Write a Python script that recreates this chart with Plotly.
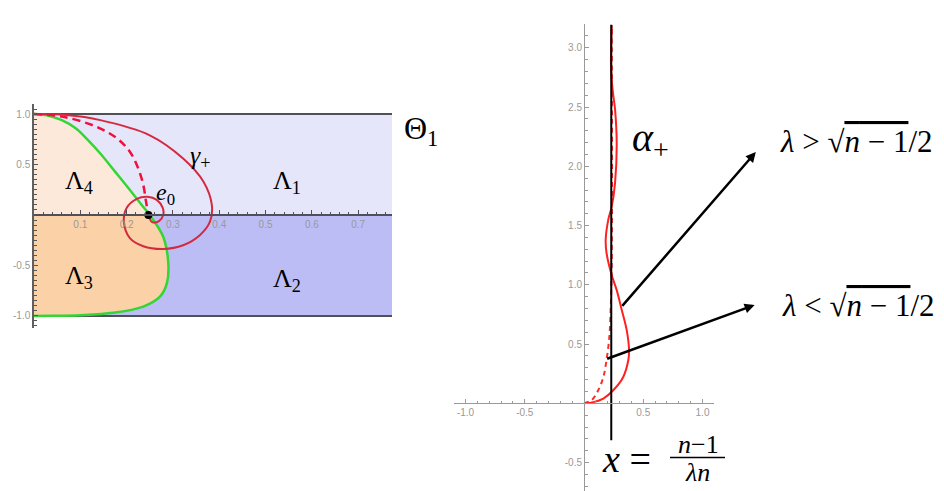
import plotly.graph_objects as go

W, H = 944, 491

# ---------------- left panel data ----------------
theta_bounds = [-1.0, 1.0]
x_max_left = 0.773

green_x = [0, 0.03, 0.06, 0.09, 0.115, 0.145, 0.175, 0.205, 0.236, 0.25, 0.279, 0.29, 0.287, 0.272, 0.236, 0.171, 0.1, 0.04, 0]
green_y = [1, 0.985, 0.94, 0.86, 0.75, 0.6, 0.43, 0.26, 0.08, 0.0, -0.215, -0.48, -0.676, -0.81, -0.908, -0.97, -0.993, -0.999, -1]

dash_x = [0, 0.063, 0.135, 0.179, 0.207, 0.225, 0.236, 0.242, 0.247]
dash_y = [1, 0.973, 0.874, 0.76, 0.627, 0.462, 0.297, 0.13, 0]

spiral_x = [0, 0.07, 0.143, 0.25, 0.322, 0.366, 0.384, 0.38, 0.358, 0.322, 0.279, 0.236, 0.207,
            0.194, 0.2, 0.222, 0.245, 0.265, 0.278, 0.279, 0.27, 0.255, 0.247]
spiral_y = [1, 0.99, 0.94, 0.79, 0.56, 0.33, 0.1, -0.066, -0.2, -0.3, -0.337, -0.31, -0.23,
            -0.066, 0.07, 0.16, 0.18, 0.15, 0.07, 0, -0.06, -0.07, 0]

e0 = (0.247, 0.0)

left_xticks = [0.1, 0.2, 0.3, 0.4, 0.5, 0.6, 0.7]
left_yticks = [-1.0, -0.5, 0.5, 1.0]

# ---------------- right panel data ----------------
alpha_x = [0, 0.08, 0.163, 0.247, 0.33, 0.374, 0.38, 0.36, 0.318, 0.276, 0.234, 0.19, 0.183,
           0.205, 0.234, 0.262, 0.276, 0.262, 0.242, 0.228, 0.234]
alpha_y = [0, 0.01, 0.04, 0.11, 0.22, 0.365, 0.45, 0.62, 0.79, 0.955, 1.08, 1.27, 1.38,
           1.55, 1.66, 1.86, 2.19, 2.48, 2.64, 2.84, 3.19]

alpha_d_x = [0, 0.065, 0.12, 0.163, 0.19, 0.214, 0.225, 0.232, 0.236, 0.236, 0.234]
alpha_d_y = [0, 0.028, 0.11, 0.22, 0.365, 0.56, 0.79, 1.04, 1.6, 2.4, 3.19]

vline_x = 0.23
vline_y = [-0.295, 3.355]

arrow_tails = [(0.312, 0.81), (0.183, 0.371)]
arrow_heads = [(1.45, 2.12), (1.44, 0.83)]

right_xticks = [-1.0, -0.5, 0.5, 1.0]
right_yticks = [-0.5, 0.5, 1.0, 1.5, 2.0, 2.5, 3.0]


def px(v):
    return v / W


def py(v):
    return 1 - v / H


def fmt(v):
    return ("%.1f" % v)


fig = go.Figure()

# region fills
fig.add_trace(go.Scatter(x=[0, x_max_left, x_max_left, 0], y=[0, 0, theta_bounds[1], theta_bounds[1]],
                         fill="toself", fillcolor="#e6e6fa", line=dict(width=0), mode="lines",
                         hoverinfo="skip", showlegend=False))
fig.add_trace(go.Scatter(x=[0, x_max_left, x_max_left, 0], y=[0, 0, theta_bounds[0], theta_bounds[0]],
                         fill="toself", fillcolor="#bdbdf6", line=dict(width=0), mode="lines",
                         hoverinfo="skip", showlegend=False))
up_x = [gx for gx, gy in zip(green_x, green_y) if gy >= 0] + [0]
up_y = [gy for gy in green_y if gy >= 0] + [0]
lo_x = [gx for gx, gy in zip(green_x, green_y) if gy <= 0] + [0]
lo_y = [gy for gy in green_y if gy <= 0] + [0]
fig.add_trace(go.Scatter(x=up_x, y=up_y, fill="toself", fillcolor="#fde9da", line=dict(width=0),
                         mode="lines", hoverinfo="skip", showlegend=False))
fig.add_trace(go.Scatter(x=lo_x, y=lo_y, fill="toself", fillcolor="#fbd1a8", line=dict(width=0),
                         mode="lines", hoverinfo="skip", showlegend=False))

# strip boundaries
for b in theta_bounds:
    fig.add_trace(go.Scatter(x=[0, x_max_left], y=[b, b], mode="lines",
                             line=dict(color="#505058", width=2), showlegend=False, hoverinfo="skip"))

fig.add_trace(go.Scatter(x=green_x, y=green_y, mode="lines", line=dict(color="#33d633", width=2.5, shape="spline"),
                         showlegend=False))
fig.add_trace(go.Scatter(x=spiral_x, y=spiral_y, mode="lines", line=dict(color="#d42a40", width=2, shape="spline"),
                         showlegend=False))
fig.add_trace(go.Scatter(x=dash_x, y=dash_y, mode="lines",
                         line=dict(color="#f0103a", width=2.5, dash="8px,5px", shape="spline"), showlegend=False))
fig.add_trace(go.Scatter(x=[e0[0]], y=[e0[1]], mode="markers", marker=dict(color="black", size=8),
                         showlegend=False))

# right panel
fig.add_trace(go.Scatter(x=[vline_x, vline_x], y=vline_y, mode="lines", line=dict(color="black", width=2),
                         xaxis="x2", yaxis="y3", showlegend=False))
fig.add_trace(go.Scatter(x=alpha_d_x, y=alpha_d_y, mode="lines",
                         line=dict(color="#ff2a2a", width=2, dash="5px,4px", shape="spline"),
                         xaxis="x2", yaxis="y2", showlegend=False))
fig.add_trace(go.Scatter(x=alpha_x, y=alpha_y, mode="lines",
                         line=dict(color="#ff2020", width=2, shape="spline"),
                         xaxis="x2", yaxis="y2", showlegend=False))

tickfont = dict(family="Liberation Sans, Arial", size=10, color="#999999")

fig.update_layout(
    width=W, height=H, margin=dict(l=0, r=0, t=0, b=0),
    paper_bgcolor="white", plot_bgcolor="rgba(0,0,0,0)", showlegend=False,
    xaxis=dict(domain=[px(34), px(392)], range=[0, x_max_left], anchor="free", position=py(215),
               showgrid=False, zeroline=False, showline=True, linecolor="#50505a", linewidth=1.5,
               ticks="inside", ticklen=4, tickcolor="#50505a", tickwidth=1,
               tickvals=left_xticks, ticktext=[fmt(v) for v in left_xticks], tickfont=tickfont,
               minor=dict(dtick=0.02, tick0=0, ticks="inside", ticklen=2.5, tickcolor="#50505a", showgrid=False)),
    yaxis=dict(domain=[py(328), py(104)], range=[-1.12, 1.1], anchor="x",
               showgrid=False, zeroline=False, showline=True, linecolor="#606060", linewidth=1.5,
               ticks="inside", ticklen=4, tickcolor="#555555", tickwidth=1,
               tickvals=left_yticks, ticktext=[fmt(v) for v in left_yticks], tickfont=tickfont,
               minor=dict(dtick=0.05, tick0=0, ticks="inside", ticklen=3, tickcolor="#555555", showgrid=False)),
    xaxis2=dict(domain=[px(584 - 1.1 * 118.5), px(584 + 1.1 * 118.5)], range=[-1.1, 1.1], anchor="free",
                position=py(403.3), showgrid=False, zeroline=False, showline=True, linecolor="#9a9a9a",
                linewidth=1, ticks="inside", ticklen=4, tickcolor="#9a9a9a",
                tickvals=right_xticks, ticktext=[fmt(v) for v in right_xticks], tickfont=tickfont,
                minor=dict(dtick=0.1, tick0=0, ticks="inside", ticklen=2.5, tickcolor="#9a9a9a", showgrid=False)),
    yaxis2=dict(domain=[0, py(403.3 - 3.2 * 118.5)], range=[-0.74, 3.2], anchor="free", position=px(584),
                showgrid=False, zeroline=False, showline=True, linecolor="#9a9a9a", linewidth=1,
                ticks="inside", ticklen=4, tickcolor="#9a9a9a",
                tickvals=right_yticks, ticktext=[fmt(v) for v in right_yticks], tickfont=tickfont,
                minor=dict(dtick=0.1, tick0=0, ticks="inside", ticklen=2.5, tickcolor="#9a9a9a", showgrid=False)),
    yaxis3=dict(domain=[0, py(403.3 - 3.36 * 118.5)], range=[-0.74, 3.36], anchor="x2",
                overlaying="y2", visible=False),
)

serif = "Liberation Serif, DejaVu Serif, serif"
ann = []


def lab(text, x, y, size, xref="x", yref="y", xanchor="center", yanchor="middle"):
    ann.append(dict(text=text, x=x, y=y, xref=xref, yref=yref, showarrow=False,
                    font=dict(family=serif, size=size, color="black"), xanchor=xanchor, yanchor=yanchor))


lab("Λ<sub>4</sub>", 0.097, 0.33, 26)
lab("Λ<sub>1</sub>", 0.546, 0.33, 26)
lab("Λ<sub>3</sub>", 0.097, -0.61, 26)
lab("Λ<sub>2</sub>", 0.546, -0.64, 26)
lab("<i>γ</i><sub>+</sub>", 0.36, 0.57, 26)
lab("<i>e</i><sub>0</sub>", 0.283, 0.21, 24)
lab("Θ<sub>1</sub>", px(402), py(130), 32, xref="paper", yref="paper", xanchor="left")
lab("<i>α</i><sub>+</sub>", px(630), py(140), 40, xref="paper", yref="paper", xanchor="left")
lab("<i>λ</i> &gt; √<span style='text-decoration:overline'><i>n</i> − 1</span>/2", px(778), py(142), 31,
    xref="paper", yref="paper", xanchor="left")
lab("<i>λ</i> &lt; √<span style='text-decoration:overline'><i>n</i> − 1</span>/2", px(780), py(305), 31,
    xref="paper", yref="paper", xanchor="left")
lab("<i>x</i> =", px(600), py(459), 38, xref="paper", yref="paper", xanchor="left")
lab("<i>n</i>−1", px(698), py(444), 26, xref="paper", yref="paper")
lab("<i>λn</i>", px(697), py(472), 26, xref="paper", yref="paper")

for (tx, ty), (hx, hy) in zip(arrow_tails, arrow_heads):
    ann.append(dict(x=hx, y=hy, ax=tx, ay=ty, xref="x2", yref="y2", axref="x2", ayref="y2",
                    showarrow=True, arrowhead=2, arrowsize=0.8, arrowwidth=2.5, arrowcolor="black", text=""))

fig.update_layout(annotations=ann)
fig.add_shape(type="line", xref="paper", yref="paper", x0=px(670), x1=px(725), y0=py(457.5), y1=py(457.5),
              line=dict(color="black", width=1.5))

fig.write_html("out.html", config={"displayModeBar": False},
               post_script="document.body.style.margin='0';document.body.style.overflow='hidden';")
